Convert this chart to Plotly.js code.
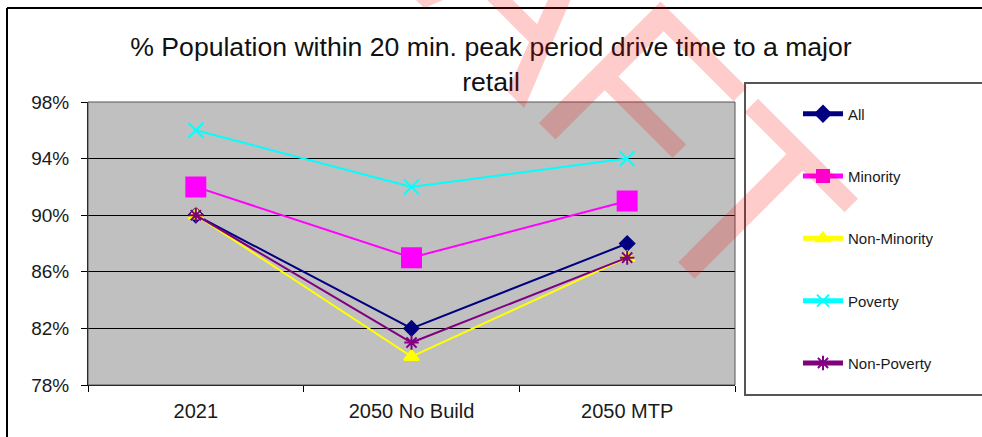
<!DOCTYPE html>
<html>
<head>
<meta charset="utf-8">
<script src="https://cdn.plot.ly/plotly-3.0.1.min.js"></script>
<style>html,body{margin:0;padding:0;background:#fff;}#chart{width:982px;height:437px;}</style>
</head>
<body>
<div id="chart"></div>
<script>
// ---- data ----
const categories = ["2021", "2050 No Build", "2050 MTP"];
const seriesNames = ["All", "Minority", "Non-Minority", "Poverty", "Non-Poverty"];
const allValues = [90, 82, 88];
const minorityValues = [92, 87, 91];
const nonMinorityValues = [90, 80, 87];
const povertyValues = [96, 92, 94];
const nonPovertyValues = [90, 81, 87];
const yTickValues = [78, 82, 86, 90, 94, 98];
const yTickLabels = ["78%", "82%", "86%", "90%", "94%", "98%"];
const chartTitle = "% Population within 20 min. peak period drive time to a major<br>retail";
const watermarkText = "DRAFT";

// ---- layout helpers (pixel geometry of the figure) ----
const W = 982, H = 437;
const M = {l: 88, r: 247, t: 102, b: 52};
const PW = W - M.l - M.r, PH = H - M.t - M.b;
const px = x => (x - M.l) / PW;          // pixel x -> paper
const py = y => (H - M.b - y) / PH;      // pixel y -> paper

const FONT = "Liberation Sans, Arial, sans-serif";

function trace(name, values, color, symbol, size) {
  return {
    type: "scatter", mode: "lines+markers",
    name: name, legendgroup: name,
    x: categories, y: values,
    line: {color: color, width: 2},
    marker: {symbol: symbol, size: size, color: color, line: {color: color, width: 2}}
  };
}

const data = [
  trace(seriesNames[0], allValues, "#000080", "diamond", 11),
  trace(seriesNames[1], minorityValues, "#FF00FF", "square", 19),
  trace(seriesNames[2], nonMinorityValues, "#FFFF00", "triangle-up", 13),
  trace(seriesNames[3], povertyValues, "#00FFFF", "x-thin-open", 15),
  trace(seriesNames[4], nonPovertyValues, "#800080", "asterisk-open", 12)
];

const layout = {
  width: W, height: H,
  margin: M,
  paper_bgcolor: "#ffffff",
  plot_bgcolor: "#C0C0C0",
  font: {family: FONT, color: "#1a1a1a"},
  title: {
    text: chartTitle,
    font: {family: FONT, size: 26.6, color: "#111"},
    xref: "container", x: 491 / W, xanchor: "center",
    yref: "container", y: 1 - 56 / H, yanchor: "top"
  },
  showlegend: true,
  legend: {
    x: px(798), xanchor: "left",
    y: py(97.5), yanchor: "top",
    bgcolor: "rgba(0,0,0,0)",
    borderwidth: 0,
    font: {family: FONT, size: 15, color: "#1a1a1a"},
    traceorder: "grouped",
    tracegroupgap: 39.8,
    itemwidth: 40,
    itemsizing: "constant",
    maxheight: 400
  },
  xaxis: {
    type: "category",
    range: [-0.5, 2.5],
    showgrid: false,
    zeroline: false,
    showline: true, linecolor: "#000", linewidth: 1,
    ticks: "outside", ticklen: 6, tickcolor: "#000", tickwidth: 1,
    tickson: "boundaries",
    ticklabelstandoff: 8,
    tickfont: {family: FONT, size: 20, color: "#1a1a1a"},
    fixedrange: true
  },
  yaxis: {
    range: [78, 98],
    tickvals: yTickValues,
    ticktext: yTickLabels,
    showgrid: true, gridcolor: "#000", gridwidth: 1,
    zeroline: false,
    showline: true, linecolor: "#000", linewidth: 1,
    ticks: "outside", ticklen: 6, tickcolor: "#000", tickwidth: 1,
    ticklabelstandoff: 8,
    tickfont: {family: FONT, size: 19, color: "#1a1a1a"},
    fixedrange: true
  },
  shapes: [
    // plot area frame (top / right)
    {type: "rect", xref: "paper", yref: "paper", x0: 0, x1: 1, y0: 0, y1: 1,
     line: {color: "#555", width: 1}, fillcolor: "rgba(0,0,0,0)", layer: "above"},
    // legend box
    {type: "rect", xref: "paper", yref: "paper", x0: px(745), x1: px(990), y0: py(395), y1: py(83),
     line: {color: "#555", width: 2}, fillcolor: "rgba(0,0,0,0)"},
    // outer chart border (top and left)
    {type: "line", xref: "paper", yref: "paper", x0: px(7), x1: px(990), y0: py(8), y1: py(8),
     line: {color: "#000", width: 2}},
    {type: "line", xref: "paper", yref: "paper", x0: px(7), x1: px(7), y0: py(8), y1: py(445),
     line: {color: "#000", width: 2}}
  ],
  annotations: [
    {text: watermarkText, showarrow: false, textangle: 45,
     xref: "paper", yref: "paper", x: px(507), y: py(-32),
     xanchor: "center", yanchor: "middle",
     font: {family: FONT, size: 250, color: "rgba(255,0,0,0.2)"}}
  ]
};

Plotly.newPlot("chart", data, layout, {displayModeBar: false, staticPlot: true});
</script>
</body>
</html>
